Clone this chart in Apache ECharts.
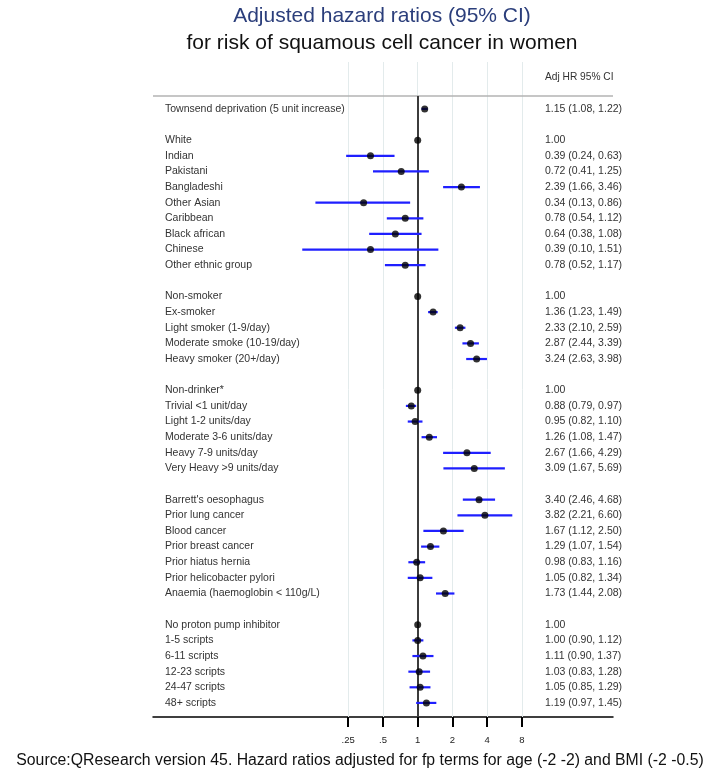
<!DOCTYPE html>
<html><head><meta charset="utf-8">
<script src="https://cdn.jsdelivr.net/npm/echarts@6/dist/echarts.min.js"></script>
<style>html,body{margin:0;padding:0;background:#fff}#c{width:717px;height:777px}</style>
</head><body><div id="c"></div>
<script>
// ---- data ----
const labels = ['Townsend deprivation (5 unit increase)', '',
  'White', 'Indian', 'Pakistani', 'Bangladeshi', 'Other Asian', 'Caribbean', 'Black african', 'Chinese', 'Other ethnic group', '',
  'Non-smoker', 'Ex-smoker', 'Light smoker (1-9/day)', 'Moderate smoke (10-19/day)', 'Heavy smoker (20+/day)', '',
  'Non-drinker*', 'Trivial <1 unit/day', 'Light 1-2 units/day', 'Moderate 3-6 units/day', 'Heavy 7-9 units/day', 'Very Heavy >9 units/day', '',
  "Barrett's oesophagus", 'Prior lung cancer', 'Blood cancer', 'Prior breast cancer', 'Prior hiatus hernia', 'Prior helicobacter pylori', 'Anaemia (haemoglobin < 110g/L)', '',
  'No proton pump inhibitor', '1-5 scripts', '6-11 scripts', '12-23 scripts', '24-47 scripts', '48+ scripts'];
const hr = [1.15, null,
  1.00, 0.39, 0.72, 2.39, 0.34, 0.78, 0.64, 0.39, 0.78, null,
  1.00, 1.36, 2.33, 2.87, 3.24, null,
  1.00, 0.88, 0.95, 1.26, 2.67, 3.09, null,
  3.40, 3.82, 1.67, 1.29, 0.98, 1.05, 1.73, null,
  1.00, 1.00, 1.11, 1.03, 1.05, 1.19];
const lo = [1.08, null,
  null, 0.24, 0.41, 1.66, 0.13, 0.54, 0.38, 0.10, 0.52, null,
  null, 1.23, 2.10, 2.44, 2.63, null,
  null, 0.79, 0.82, 1.08, 1.66, 1.67, null,
  2.46, 2.21, 1.12, 1.07, 0.83, 0.82, 1.44, null,
  null, 0.90, 0.90, 0.83, 0.85, 0.97];
const hi = [1.22, null,
  null, 0.63, 1.25, 3.46, 0.86, 1.12, 1.08, 1.51, 1.17, null,
  null, 1.49, 2.59, 3.39, 3.98, null,
  null, 0.97, 1.10, 1.47, 4.29, 5.69, null,
  4.68, 6.60, 2.50, 1.54, 1.16, 1.34, 2.08, null,
  null, 1.12, 1.37, 1.28, 1.29, 1.45];
const tickValues = [0.25, 0.5, 1, 2, 4, 8];
const tickLabels = ['.25', '.5', '1', '2', '4', '8'];
const headerLabel = 'Adj HR 95% CI';
const titleLine1 = 'Adjusted hazard ratios (95% CI)';
const titleLine2 = 'for risk of squamous cell cancer in women';
const sourceText = 'Source:QResearch version 45. Hazard ratios adjusted for fp terms for age (-2 -2) and BMI (-2 -0.5)';

// ---- build ----
const L2 = v => Math.log2(v);
const FONT = "'Liberation Sans', Arial, sans-serif";
const NARROW = "'Liberation Sans Narrow', 'Arial Narrow', 'Liberation Sans', Arial, sans-serif";
const fmt = v => v.toFixed(2);
const rightText = labels.map((_, i) => hr[i] == null ? '' :
  (lo[i] == null ? fmt(hr[i]) : fmt(hr[i]) + ' (' + fmt(lo[i]) + ', ' + fmt(hi[i]) + ')'));

const pointData = [];
const ciData = [];
hr.forEach((v, i) => {
  if (v != null) pointData.push([L2(v), i]);
  if (lo[i] != null) ciData.push([L2(lo[i]), L2(hi[i]), i]);
});

const Y_MIN = -3, Y_MAX = 38.9, HEADER_LINE = -0.83;
const tickLog = tickValues.map(L2);

const chart = echarts.init(document.getElementById('c'), null, {renderer: 'canvas'});
chart.setOption({
  animation: false,
  backgroundColor: '#fff',
  title: [
    {text: titleLine1, left: 382, top: 6, padding: 0, textAlign: 'center',
     textStyle: {fontSize: 21, fontWeight: 'normal', color: '#2b3e7b', fontFamily: FONT}},
    {text: titleLine2, left: 382, top: 33, padding: 0, textAlign: 'center',
     textStyle: {fontSize: 21, fontWeight: 'normal', color: '#111', fontFamily: FONT}},
    {text: sourceText, left: 360, top: 753, padding: 0, textAlign: 'center',
     textStyle: {fontSize: 15.8, fontWeight: 'normal', color: '#111', fontFamily: FONT}}
  ],
  grid: {left: 153, right: 104, top: 62, bottom: 60, containLabel: false},
  xAxis: {
    type: 'value', min: -7.617, max: 5.62,
    axisLine: {show: true, onZero: false, lineStyle: {color: '#000', width: 1.5}},
    axisTick: {show: true, customValues: tickLog, length: 10, lineStyle: {color: '#000', width: 2}},
    axisLabel: {show: true, customValues: tickLog, margin: 18, fontSize: 9.5, color: '#222', fontFamily: FONT,
      formatter: v => { const k = tickLog.findIndex(t => Math.abs(t - v) < 1e-6); return k >= 0 ? tickLabels[k] : ''; }},
    splitLine: {show: false}
  },
  yAxis: [
    {type: 'value', min: Y_MIN, max: Y_MAX, interval: 1, inverse: true, position: 'left',
     axisLine: {show: false}, axisTick: {show: false}, splitLine: {show: false},
     axisLabel: {show: true, inside: true, margin: 12, align: 'left', fontSize: 10.5, color: '#333', fontFamily: FONT,
       formatter: v => (v >= 0 && labels[v] !== undefined) ? labels[v] : ''}},
    {type: 'value', min: Y_MIN, max: Y_MAX, interval: 1, inverse: true, position: 'right',
     axisLine: {show: false}, axisTick: {show: false}, splitLine: {show: false},
     axisLabel: {show: true, inside: true, margin: 68, align: 'left', fontSize: 10.5, color: '#333', fontFamily: NARROW,
       formatter: v => v === -2 ? '{h|' + headerLabel + '}' : ((v >= 0 && rightText[v]) ? rightText[v] : ''),
       rich: {h: {fontSize: 10.2, fontFamily: FONT, color: '#333'}}}}
  ],
  series: [
    {type: 'line', data: pointData, symbol: 'none', lineStyle: {opacity: 0}, z: 1, silent: true,
     markLine: {silent: true, z: 1, symbol: ['none', 'none'], label: {show: false}, animation: false,
       data: tickLog.map(t => ({xAxis: t, lineStyle: {color: '#e3ebec', width: 1, type: 'solid'}}))
         .concat([
           {yAxis: HEADER_LINE, lineStyle: {color: '#b3b3b3', width: 1.5, type: 'solid'}},
           [{coord: [0, HEADER_LINE], lineStyle: {color: '#3c3c3c', width: 2, type: 'solid'}}, {coord: [0, Y_MAX]}]
         ])}},
    {type: 'custom', data: ciData, z: 3, silent: true,
     encode: {x: [0, 1], y: 2},
     renderItem: (params, api) => {
       const a = api.coord([api.value(0), api.value(2)]);
       const b = api.coord([api.value(1), api.value(2)]);
       return {type: 'line', shape: {x1: a[0], y1: a[1], x2: b[0], y2: b[1]},
               style: {stroke: '#1f1fff', lineWidth: 2.2}};
     }},
    {type: 'scatter', data: pointData, z: 4, silent: true, symbol: 'circle', symbolSize: 7,
     itemStyle: {color: '#000'}}
  ]
});
</script></body></html>
